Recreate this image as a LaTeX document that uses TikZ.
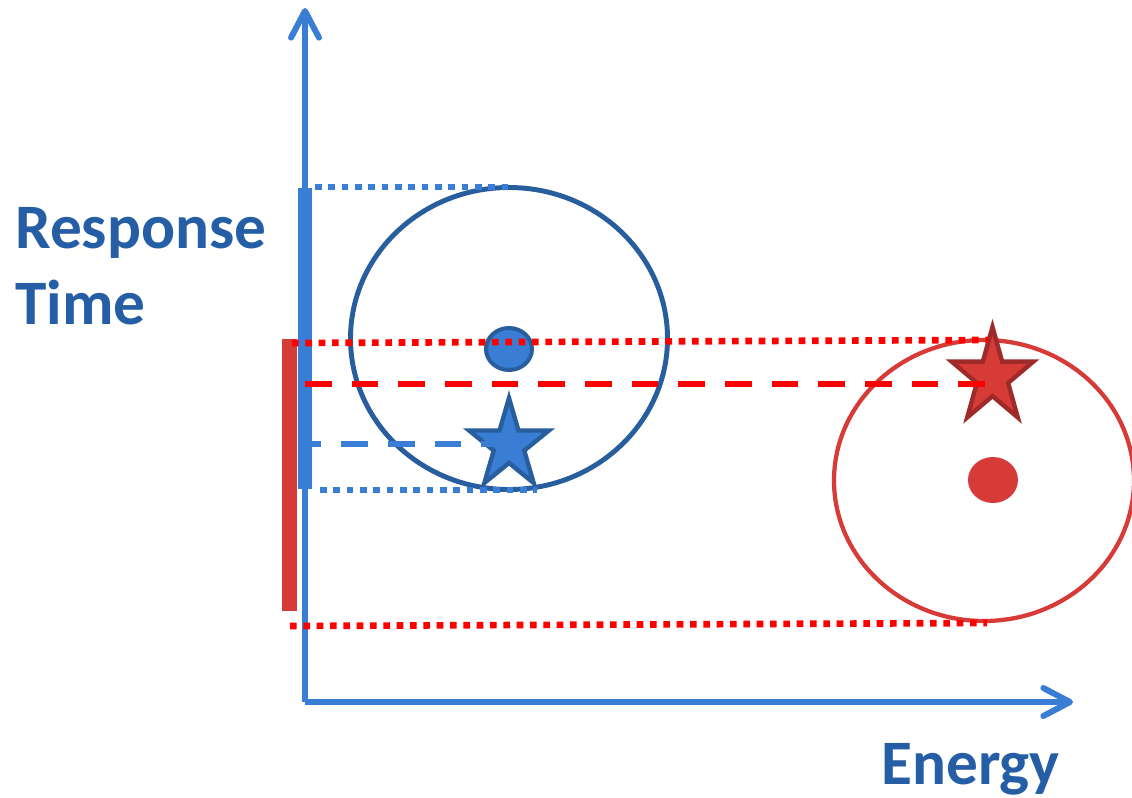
\documentclass[tikz,border=0pt]{standalone}
\usepackage{fontspec}
\setmainfont{Carlito}
\usetikzlibrary{arrows.meta}
\definecolor{axisblue}{RGB}{58,125,212}
\definecolor{textblue}{RGB}{38,94,166}
\definecolor{circblue}{RGB}{41,94,158}
\definecolor{barred}{RGB}{214,59,55}
\definecolor{starred}{RGB}{158,42,42}
\definecolor{linered}{RGB}{255,0,0}
\newcommand{\starpath}[4]{%
  ({#1+#3*cos(90)},{#2-#4*sin(90)}) --
  ({#1+0.382*#3*cos(126)},{#2-0.382*#4*sin(126)}) --
  ({#1+#3*cos(162)},{#2-#4*sin(162)}) --
  ({#1+0.382*#3*cos(198)},{#2-0.382*#4*sin(198)}) --
  ({#1+#3*cos(234)},{#2-#4*sin(234)}) --
  ({#1+0.382*#3*cos(270)},{#2-0.382*#4*sin(270)}) --
  ({#1+#3*cos(306)},{#2-#4*sin(306)}) --
  ({#1+0.382*#3*cos(342)},{#2-0.382*#4*sin(342)}) --
  ({#1+#3*cos(18)},{#2-#4*sin(18)}) --
  ({#1+0.382*#3*cos(54)},{#2-0.382*#4*sin(54)}) -- cycle}
\begin{document}
\begin{tikzpicture}[x=0.75pt,y=-0.75pt,
  axisline/.style={draw=axisblue,line width=4.5pt,
    -{Straight Barb[length=20pt,width=21pt,line cap=round,line join=round]}},
  barline/.style={line width=#1,line cap=butt},
  dotline/.style={line width=5pt,dash pattern=on 5pt off 5pt,line cap=butt},
  dashline/.style={line width=4.6pt,dash pattern=on 20pt off 15pt,line cap=butt},
  lbl/.style={font=\fontsize{47.5}{56}\selectfont\bfseries,text=textblue,anchor=base west,inner sep=0pt}]
\useasboundingbox (0,0) rectangle (1132,797);
% axes
\coordinate (O) at (305,702);
\coordinate (Ytop) at (305,8);
\coordinate (Xend) at (1073,702);
\draw[axisline] (O) -- (Ytop);
\draw[axisline] (O) -- (Xend);
% bars
\coordinate (bb1) at (305,188);
\coordinate (bb2) at (305,489);
\coordinate (rb1) at (289.5,339);
\coordinate (rb2) at (289.5,611);
\draw[axisblue,barline=10.5pt] (bb1) -- (bb2);
\draw[barred,barline=11pt] (rb1) -- (rb2);
% circles
\coordinate (BC) at (509,338.5);
\coordinate (RC) at (984,480.5);
\draw[circblue,line width=3.7pt] (BC) ellipse [x radius=158.5,y radius=151];
\draw[barred,line width=3.2pt] (RC) ellipse [x radius=150,y radius=140.5];
% dots
\coordinate (BD) at (509,349);
\coordinate (RD) at (993,480);
\fill[axisblue,draw=circblue,line width=3pt] (BD) ellipse [x radius=23,y radius=21];
\fill[barred] (RD) ellipse [x radius=25,y radius=23];
% stars
\filldraw[fill=axisblue,draw=circblue,line width=3.3pt,line join=miter] \starpath{509}{445}{42}{47};
\filldraw[fill=barred,draw=starred,line width=3.3pt,line join=miter] \starpath{992.5}{377}{43}{50};
% guide lines
\coordinate (bt1) at (315,187);
\coordinate (bt2) at (510,187);
\coordinate (bd1) at (312,444);
\coordinate (bd2) at (510,444);
\coordinate (bo1) at (320,490);
\coordinate (bo2) at (537,490);
\coordinate (rt1) at (292,343);
\coordinate (rt2) at (988,340);
\coordinate (rd1) at (305,384);
\coordinate (rd2) at (985,384);
\coordinate (ro1) at (290,626);
\coordinate (ro2) at (987,623);
\draw[axisblue,dotline] (bt1) -- (bt2);
\draw[axisblue,dotline,line width=4.3pt] (bo1) -- (bo2);
\draw[axisblue,dashline,dash phase=13pt] (bd1) -- (bd2);
\draw[linered,dotline] (rt1) -- (rt2);
\draw[linered,dotline] (ro1) -- (ro2);
\draw[linered,dashline] (rd1) -- (rd2);
% labels
\node[lbl] (resp) at (15,248) {Response};
\node[lbl] (time) at (15,324) {Time};
\node[lbl] (energy) at (881,784) {Energy};
\end{tikzpicture}
\end{document}
